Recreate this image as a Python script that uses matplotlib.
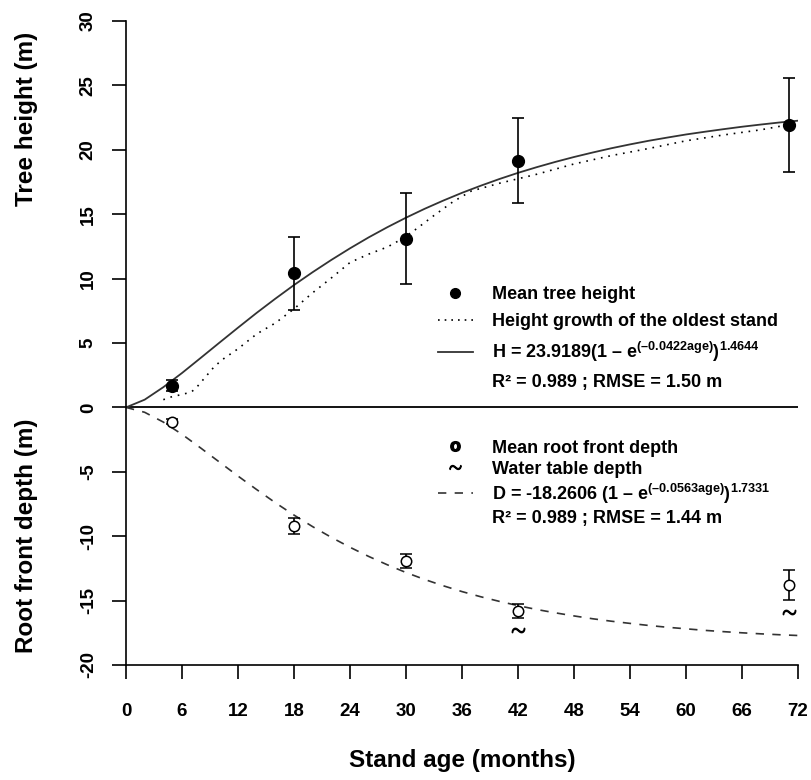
import numpy as np
import matplotlib
matplotlib.use('Agg')
import matplotlib.pyplot as plt
from matplotlib.lines import Line2D

plt.rcParams['font.family'] = ['Liberation Sans', 'DejaVu Sans']
plt.rcParams['font.weight'] = 'bold'
plt.rcParams['axes.unicode_minus'] = False
plt.rcParams['mathtext.fontset'] = 'custom'
plt.rcParams['mathtext.rm'] = 'Liberation Sans:bold'
plt.rcParams['mathtext.it'] = 'Liberation Sans:bold'
plt.rcParams['mathtext.bf'] = 'Liberation Sans:bold'

# measured stands
stand_age = [4.9, 18, 30, 42, 71]
tree_height = [1.7, 10.4, 13.1, 19.15, 21.95]
tree_height_sd = [0.4, 2.85, 3.55, 3.3, 3.65]
root_depth = [-1.1, -9.2, -11.9, -15.8, -13.8]
root_depth_sd = [0.2, 0.6, 0.55, 0.55, 1.15]
water_age = [42, 71]
water_depth = [-17.3, -15.9]

# fitted curves (read every 2 months)
curve_age = list(range(0, 74, 2))
height_fit = [0, 0.60, 1.57, 2.67, 3.84, 5.02, 6.19, 7.34, 8.44, 9.50, 10.50,
              11.45, 12.35, 13.20, 13.99, 14.73, 15.42, 16.06, 16.66, 17.21,
              17.73, 18.21, 18.65, 19.06, 19.44, 19.79, 20.12, 20.42, 20.70,
              20.95, 21.19, 21.40, 21.60, 21.79, 21.96, 22.12, 22.26]
depth_fit = [0, -0.38, -1.14, -2.09, -3.15, -4.24, -5.33, -6.38, -7.40, -8.36,
             -9.26, -10.09, -10.86, -11.57, -12.22, -12.82, -13.36, -13.85,
             -14.30, -14.70, -15.06, -15.39, -15.69, -15.95, -16.19, -16.41,
             -16.60, -16.77, -16.93, -17.07, -17.19, -17.31, -17.41, -17.50,
             -17.58, -17.65, -17.71]

# height growth of the oldest stand
oldest_age = [4, 5, 6, 7, 7.5, 8.5, 9.5, 10.5, 12, 14, 16, 18, 20, 22, 24, 26,
              28, 29.5, 31, 33, 35, 37, 40, 44, 48, 52, 56, 60, 64, 68, 71]
oldest_height = [0.6, 0.85, 1.0, 1.2, 1.5, 2.35, 3.2, 3.8, 4.55, 5.7, 6.55,
                 7.65, 8.9, 10.05, 11.25, 11.9, 12.45, 13.05, 13.8, 14.9,
                 15.95, 16.8, 17.4, 18.1, 18.9, 19.55, 20.1, 20.7, 21.15,
                 21.55, 21.95]

xticks = list(range(0, 73, 6))
yticks = list(range(-20, 31, 5))

fig = plt.figure(figsize=(8.11, 7.8), dpi=100)
ax = fig.add_axes([126 / 811, 115 / 780, 672 / 811, 644 / 780])

ax.axhline(0, color='k', lw=1.3)
ax.plot(curve_age, height_fit, color='#333333', lw=1.3)
ax.plot(oldest_age, oldest_height, color='k', lw=1.2, ls=(0, (1, 3.5)))
ax.plot(curve_age, depth_fit, color='#333333', lw=1.2, ls=(0, (5, 5)))

ax.errorbar(stand_age, tree_height, yerr=tree_height_sd, fmt='o', color='k',
            ms=8.5, capsize=4.3, elinewidth=1.2, capthick=1.2, zorder=5)
ax.errorbar(stand_age, root_depth, yerr=root_depth_sd, fmt='o', color='k',
            mfc='white', mec='k', mew=1.1, ms=7.5, capsize=4.3,
            elinewidth=1.2, capthick=1.2, zorder=5)
ax.plot(water_age, water_depth, ls='none', marker=r'$\sim$', color='k', ms=9)

ax.set_xlim(0, 72)
ax.set_ylim(-20, 30)
ax.set_xticks(xticks)
ax.set_xticklabels([str(v) for v in xticks])
ax.set_yticks(yticks)
ax.set_yticklabels([str(v) for v in yticks], rotation=90, va='center')
ax.tick_params(length=10, width=1.2, labelsize=13.5, direction='out')
ax.tick_params(axis='x', pad=17)
ax.tick_params(axis='y', pad=11)
for s in ['top', 'right']:
    ax.spines[s].set_visible(False)
for s in ['left', 'bottom']:
    ax.spines[s].set_linewidth(1.2)

ax.set_xlabel('Stand age (months)', fontsize=17.5, fontweight='bold', labelpad=21)
fig.text(27 / 811, 1 - 119 / 780, 'Tree height (m)', rotation=90,
         ha='center', va='center', fontsize=17.5, fontweight='bold')
fig.text(27 / 811, 1 - 536 / 780, 'Root front depth (m)', rotation=90,
         ha='center', va='center', fontsize=17.5, fontweight='bold')

# legends
up_handles = [
    Line2D([], [], ls='none', marker='o', color='k', ms=7),
    Line2D([], [], color='k', lw=1.2, ls=(0, (1, 3))),
    Line2D([], [], color='#333333', lw=1.3),
    Line2D([], [], ls='none'),
]
up_labels = ['Mean tree height',
             'Height growth of the oldest stand',
             'H = 23.9189(1 \u2013 e$^{(\u20130.0422age)}$)$^{1.4644}$',
             'R\u00b2 = 0.989 ; RMSE = 1.50 m']
leg1 = ax.legend(up_handles, up_labels, loc='upper left',
                 bbox_to_anchor=(0.464, 0.588), frameon=False, fontsize=13,
                 handlelength=1.94, handletextpad=1.04, labelspacing=0.55,
                 borderpad=0, borderaxespad=0)
ax.add_artist(leg1)

low_handles = [
    Line2D([], [], ls='none', marker=r'$\mathbf{o}$', color='k', ms=7),
    Line2D([], [], ls='none', marker=r'$\sim$', color='k', ms=8),
    Line2D([], [], color='#333333', lw=1.2, ls=(0, (5, 5))),
    Line2D([], [], ls='none'),
]
low_labels = ['Mean root front depth',
              'Water table depth',
              'D = -18.2606 (1 \u2013 e$^{(\u20130.0563age)}$)$^{1.7331}$',
              'R\u00b2 = 0.989 ; RMSE = 1.44 m']
ax.legend(low_handles, low_labels, loc='upper left',
          bbox_to_anchor=(0.464, 0.350), frameon=False, fontsize=13,
          handlelength=1.94, handletextpad=1.04, labelspacing=0.22,
          borderpad=0, borderaxespad=0)

fig.savefig('out.png', dpi=100)
